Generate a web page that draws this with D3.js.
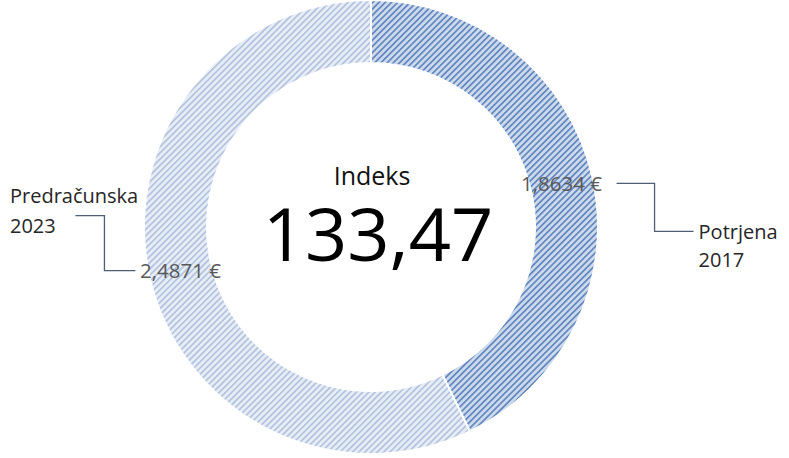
<!DOCTYPE html>
<html lang="sl">
<head>
    <meta charset="UTF-8">
    <title>Indeks</title>
    <script src="https://d3js.org/d3.v7.min.js"></script>
    <style>
        body {
            margin: 0;
            background-color: #fff;
            font-family: "Open Sans", Arial, sans-serif;
        }
    </style>
</head>
<body>
    <svg id="chart" width="789" height="458"></svg>
    <script>
// Data
const categories = ["Potrjena 2017", "Predračunska 2023"];
const values = [1.8634, 2.4871];
const valueLabels = ["1,8634 €", "2,4871 €"];
const centerTitle = "Indeks";
const centerValue = "133,47";

const width = 789, height = 458;
const cx = 371, cy = 227;
const outerR = 227, innerR = 164;

const svg = d3.select("#chart");

// hatched fills (wide upward diagonal)
const defs = svg.append("defs");
const fills = [
    { id: "hatchDark", bg: "#ccdaee", line: "#6386bd" },
    { id: "hatchLight", bg: "#e7edf6", line: "#b3c3de" }
];
fills.forEach(f => {
    const p = defs.append("pattern")
        .attr("id", f.id)
        .attr("patternUnits", "userSpaceOnUse")
        .attr("width", 4.4)
        .attr("height", 4.4)
        .attr("patternTransform", "rotate(45)");
    p.append("rect").attr("width", 4.4).attr("height", 4.4).attr("fill", f.bg);
    p.append("rect").attr("width", 1.7).attr("height", 4.4).attr("fill", f.line);
});

const pie = d3.pie().sort(null).value(d => d);
const arc = d3.arc().innerRadius(innerR).outerRadius(outerR);
const arcs = pie(values);

const g = svg.append("g").attr("transform", `translate(${cx},${cy})`);

g.selectAll("path")
    .data(arcs)
    .enter().append("path")
    .attr("d", arc)
    .attr("fill", (d, i) => `url(#${fills[i].id})`)
    .attr("stroke", "#fff")
    .attr("stroke-width", 2);

// value labels at the ring centroids
g.selectAll("text.val")
    .data(arcs)
    .enter().append("text")
    .attr("class", "val")
    .attr("x", d => arc.centroid(d)[0])
    .attr("y", d => arc.centroid(d)[1])
    .attr("dy", "0.35em")
    .attr("text-anchor", "middle")
    .attr("font-size", 20.5)
    .attr("fill", "#595959")
    .text((d, i) => valueLabels[i]);

// leader lines + category labels
const leaderColor = "#4e5f75";
const [c0x, c0y] = arc.centroid(arcs[0]);
const [c1x, c1y] = arc.centroid(arcs[1]);

// right: Potrjena 2017
g.append("path")
    .attr("d", `M${c0x + 55},${c0y} H${c0x + 93} V${c0y + 48} H${c0x + 132}`)
    .attr("fill", "none")
    .attr("stroke", leaderColor)
    .attr("stroke-width", 1.3);

const rightLab = g.append("text")
    .attr("x", c0x + 137)
    .attr("y", c0y + 56)
    .attr("font-size", 20)
    .attr("fill", "#262626");
categories[0].split(" ").forEach((w, i) => {
    rightLab.append("tspan").attr("x", c0x + 137).attr("dy", i ? 28 : 0).text(w);
});

// left: Predračunska 2023
g.append("path")
    .attr("d", `M${c1x - 45},${c1y} H${c1x - 76} V${c1y - 55} H${c1x - 105}`)
    .attr("fill", "none")
    .attr("stroke", leaderColor)
    .attr("stroke-width", 1.3);

const leftLab = g.append("text")
    .attr("x", -361)
    .attr("y", -24)
    .attr("font-size", 20)
    .attr("fill", "#262626");
categories[1].split(" ").forEach((w, i) => {
    leftLab.append("tspan").attr("x", -361).attr("dy", i ? 30 : 0).text(w);
});

// center text
g.append("text")
    .attr("x", 1)
    .attr("y", -42)
    .attr("text-anchor", "middle")
    .attr("font-size", 25)
    .attr("fill", "#111")
    .text(centerTitle);

g.append("text")
    .attr("x", 7)
    .attr("y", 34)
    .attr("text-anchor", "middle")
    .attr("font-size", 74)
    .attr("fill", "#000")
    .text(centerValue);
    </script>
</body>
</html>
